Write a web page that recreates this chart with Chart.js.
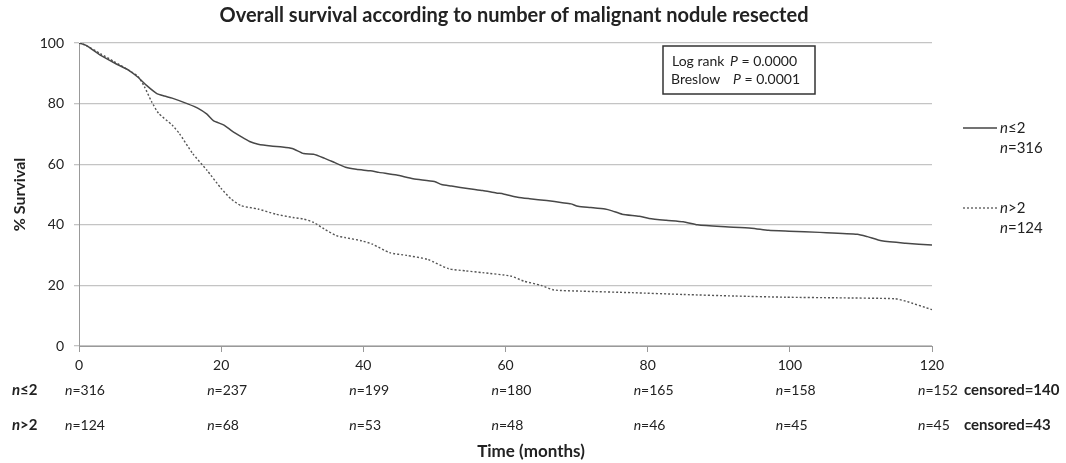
<!DOCTYPE html>
<html lang="en">
<head>
  <meta charset="UTF-8">
  <title>Overall survival</title>
  <script src="https://cdn.jsdelivr.net/npm/chart.js"></script>
  <style>
    html, body { margin: 0; padding: 0; background: #fff; }
  </style>
</head>
<body>
  <canvas id="myChart" width="1066" height="463"></canvas>
  <script>
    // survival curves (months, % survival)
    const lowMonths = [0, 1, 3, 5, 7, 8.3, 9.5, 10.9, 12, 13.1, 15.3, 16.7, 18, 18.9, 20.4, 21.5, 22.8, 24, 25.2, 27,
      28.6, 30, 31.6, 33, 34.5, 36, 37.5, 39, 41, 42.2, 44.7, 47, 50, 51, 52.4, 54.9, 56.8, 58.7, 59.7, 61.7,
      63.4, 65.8, 68, 69.2, 70.2, 72, 74, 75, 76.4, 78.8, 80.2, 82.6, 85, 87, 90.3, 94.6, 97, 99.9, 104.2, 109.5,
      110.9, 112.9, 116.3, 120];
    const lowSurvival = [100, 99.2, 96, 93.4, 91, 88.7, 86, 83.4, 82.5, 81.8, 79.9, 78.5, 76.5, 74.4, 72.9, 71, 69.1, 67.5, 66.6, 66,
      65.7, 65.2, 63.5, 63.3, 62, 60.5, 59, 58.3, 57.8, 57.3, 56.4, 55.2, 54.3, 53.3, 52.8, 51.9, 51.3, 50.5, 50.2, 49.1,
      48.6, 48, 47.3, 46.9, 46.1, 45.7, 45.2, 44.6, 43.5, 42.8, 42.1, 41.5, 41, 40, 39.4, 38.9, 38.2, 37.9, 37.5, 36.9,
      36.1, 34.7, 33.9, 33.3];

    const highMonths = [0, 1, 3, 4.9, 7.3, 8.3, 9.2, 10.2, 11.2, 13.1, 14.1, 16, 18, 20, 21.4, 22.8, 25.2, 27.7, 30.1, 31.6,
      33, 34.5, 36.2, 37.4, 39.8, 41.3, 43.7, 46.1, 49, 52, 54.4, 56.8, 60.7, 62.6, 65, 66.8, 70.6, 77.8, 85, 92.2,
      99.4, 106.6, 114.8, 116.3, 120];
    const highSurvival = [100, 99.2, 96.5, 93.9, 90.6, 89, 85.6, 80.7, 76.8, 72.9, 70.2, 63.5, 58, 52, 48.5, 46.3, 45.2, 43.5, 42.4, 41.9,
      40.8, 38.6, 36.4, 35.8, 34.7, 33.6, 30.8, 29.9, 28.6, 25.5, 24.8, 24.2, 23.1, 21.4, 20, 18.5, 18.1, 17.6, 17, 16.5,
      16.1, 15.9, 15.6, 14.8, 12];

    // numbers at risk
    const riskMonths = [0, 20, 40, 60, 80, 100, 120];
    const riskLow = [316, 237, 199, 180, 165, 158, 152];
    const riskHigh = [124, 68, 53, 48, 46, 45, 45];
    const censoredLow = 140;
    const censoredHigh = 43;

    const FONT = 'Lato, "Open Sans", sans-serif';

    function toPoints(xs, ys) {
      return xs.map((x, i) => ({ x: x, y: ys[i] }));
    }

    // draws "n" in italic followed by the rest in regular
    function nText(ctx, x, y, rest, size, bold) {
      const w = bold ? 'bold ' : '';
      ctx.font = 'italic ' + w + size + 'px ' + FONT;
      ctx.fillText('n', x, y);
      const nw = ctx.measureText('n').width;
      ctx.font = w + size + 'px ' + FONT;
      ctx.fillText(rest, x + nw, y);
      return nw + ctx.measureText(rest).width;
    }

    // "label  P = value" line of the test box
    function pLine(ctx, x, px, y, label, value) {
      ctx.font = '14px ' + FONT;
      ctx.fillText(label, x, y);
      ctx.font = 'italic 14px ' + FONT;
      ctx.fillText('P', px, y);
      const pw = ctx.measureText('P').width;
      ctx.font = '14px ' + FONT;
      ctx.fillText(' = ' + value, px + pw, y);
    }

    const extras = {
      id: 'extras',
      afterDraw(chart) {
        const ctx = chart.ctx;
        const xs = chart.scales.x;
        ctx.save();
        ctx.fillStyle = '#222';
        ctx.textBaseline = 'middle';

        // title
        ctx.textAlign = 'center';
        ctx.font = 'bold 20px ' + FONT;
        ctx.fillText('Overall survival according to number of malignant nodule resected', 514, 16);
        ctx.textAlign = 'left';

        // p-value box
        ctx.fillStyle = '#fff';
        ctx.fillRect(663, 46, 152, 48);
        ctx.strokeStyle = '#333';
        ctx.lineWidth = 1.5;
        ctx.strokeRect(663, 46, 152, 48);
        ctx.fillStyle = '#222';
        pLine(ctx, 672, 730, 61, 'Log rank', '0.0000');
        pLine(ctx, 671, 733, 79, 'Breslow', '0.0001');

        // legend
        ctx.strokeStyle = '#444';
        ctx.lineWidth = 1.3;
        ctx.beginPath();
        ctx.moveTo(963, 128); ctx.lineTo(997, 128);
        ctx.stroke();
        ctx.strokeStyle = '#555';
        ctx.setLineDash([2, 2]);
        ctx.beginPath();
        ctx.moveTo(963, 208); ctx.lineTo(997, 208);
        ctx.stroke();
        ctx.setLineDash([]);
        nText(ctx, 1000, 128, '\u22642', 15, false);
        nText(ctx, 1000, 148, '=316', 15, false);
        nText(ctx, 1000, 208, '>2', 15, false);
        nText(ctx, 1000, 228, '=124', 15, false);

        // number-at-risk rows
        const rowA = 390, rowB = 425;
        nText(ctx, 12, rowA, '\u22642', 15, true);
        nText(ctx, 12, rowB, '>2', 15, true);
        riskMonths.forEach((m, i) => {
          const px = xs.getPixelForValue(m) - 14;
          nText(ctx, px, rowA, '=' + riskLow[i], 14, false);
          nText(ctx, px, rowB, '=' + riskHigh[i], 14, false);
        });
        ctx.font = 'bold 15px ' + FONT;
        ctx.fillText('censored=' + censoredLow, 964, rowA);
        ctx.fillText('censored=' + censoredHigh, 964, rowB);

        // x axis title
        ctx.textAlign = 'center';
        ctx.font = 'bold 17px ' + FONT;
        ctx.fillText('Time (months)', 531, 452);
        ctx.restore();
      }
    };

    const ctx = document.getElementById('myChart').getContext('2d');
    new Chart(ctx, {
      type: 'line',
      data: {
        datasets: [{
          label: 'n\u22642',
          data: toPoints(lowMonths, lowSurvival),
          borderColor: '#484848',
          borderWidth: 1.5,
          pointRadius: 0,
          tension: 0.2,
          fill: false
        }, {
          label: 'n>2',
          data: toPoints(highMonths, highSurvival),
          borderColor: '#555',
          borderWidth: 1.4,
          borderDash: [2, 2],
          pointRadius: 0,
          tension: 0.2,
          fill: false
        }]
      },
      options: {
        responsive: false,
        animation: false,
        devicePixelRatio: 1,
        layout: { padding: { top: 43, right: 134, left: 0, bottom: 0 } },
        plugins: {
          legend: { display: false },
          tooltip: { enabled: false },
          title: { display: false }
        },
        scales: {
          x: {
            type: 'linear',
            min: 0,
            max: 120,
            afterFit(scale) { scale.height = 117; },
            ticks: { stepSize: 20, padding: 5, color: '#222', font: { family: FONT, size: 14 } },
            grid: { drawOnChartArea: false, drawTicks: true, tickLength: 6, color: '#999' },
            border: { display: true, color: '#999' }
          },
          y: {
            min: 0,
            max: 100,
            afterFit(scale) { scale.width = 79; },
            ticks: { stepSize: 20, padding: 10, color: '#222', font: { family: FONT, size: 14 } },
            grid: { color: '#c4c4c4', lineWidth: 1.3, tickLength: 5 },
            border: { display: true, color: '#999' },
            title: {
              display: true,
              text: '% Survival',
              color: '#222',
              padding: { top: 10, bottom: 0 },
              font: { family: FONT, size: 16, weight: 'bold' }
            }
          }
        }
      },
      plugins: [extras]
    });
  </script>
</body>
</html>
